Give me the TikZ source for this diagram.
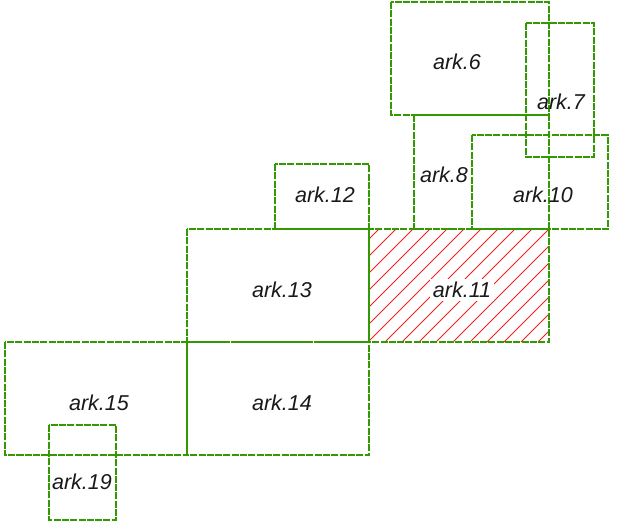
\documentclass[tikz,border=0pt]{standalone}
\usepackage{fontspec}
\setmainfont{Liberation Sans}
\usetikzlibrary{calc}

\definecolor{arkgreen}{RGB}{51,153,0}
\definecolor{arkred}{RGB}{240,30,30}

\tikzset{
  arkline/.style={draw=arkgreen, line width=1.7pt, dash pattern=on 7pt off 1.3pt},
  arklabel/.style={font=\fontsize{21.5}{24}\selectfont\itshape, text=black!90, inner sep=1pt},
}

\begin{document}
\begin{tikzpicture}[x=1pt,y=-1pt]

\useasboundingbox (0,0) rectangle (638,528);

% === Hatched field ark.11 (drawn first, lines go over it) ===
\begin{scope}
  \clip (369,229) rectangle (549,342);
  \foreach \i in {0,17,...,300} {
    \draw[arkred, line width=0.8pt] ($(369,342)+(\i-120,0)$) -- ++(120,-120);
  }
\end{scope}

% === Field outlines ===
% upper group
\draw[arkline] (391,2) rectangle (549,115);    % ark.6
\draw[arkline] (526,23) rectangle (594,157);   % ark.7
\draw[arkline] (414,115) rectangle (549,229);  % ark.8
\draw[arkline] (472,135) rectangle (608,229);  % ark.10
\draw[arkline] (275,164) rectangle (369,229);  % ark.12
% middle row
\draw[arkline] (187,229) rectangle (369,342);  % ark.13
\draw[arkline] (369,229) rectangle (549,342);  % ark.11
% lower row
\draw[arkline] (187,342) rectangle (369,455);  % ark.14
\draw[arkline] (5,342) rectangle (187,455);    % ark.15
\draw[arkline] (49,425) rectangle (116,520);   % ark.19

% === Labels ===
\node[arklabel] (l6)  at (457,62)  {ark.6};
\node[arklabel] (l7)  at (561,102) {ark.7};
\node[arklabel] (l8)  at (444,175) {ark.8};
\node[arklabel] (l10) at (543,195) {ark.10};
\node[arklabel] (l12) at (325,195) {ark.12};
\node[arklabel] (l13) at (282,290) {ark.13};
\node[arklabel, fill=white, inner sep=3pt] (l11) at (462,290) {ark.11};
\node[arklabel] (l14) at (282,403) {ark.14};
\node[arklabel] (l15) at (99,403)  {ark.15};
\node[arklabel] (l19) at (82,482)  {ark.19};

\end{tikzpicture}
\end{document}
